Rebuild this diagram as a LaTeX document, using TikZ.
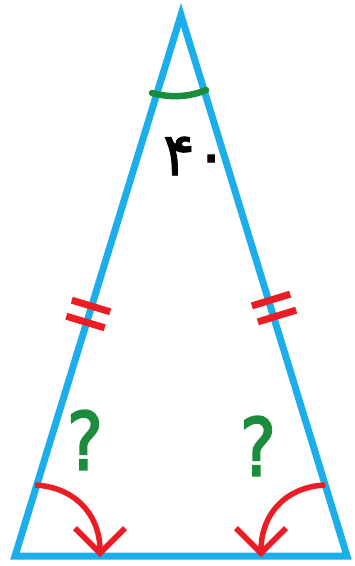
\documentclass[tikz,border=0pt]{standalone}
\usepackage{fontspec}
\usepackage{tikz}
\usetikzlibrary{arrows.meta}
\newfontfamily\persianfont[Script=Arabic,FakeBold=1.5]{DejaVu Sans}
\newfontfamily\qfont[FakeBold=2.5]{DejaVu Sans}
\definecolor{sideblue}{HTML}{1BAEEA}
\definecolor{markred}{HTML}{EC1C24}
\definecolor{markgreen}{HTML}{1A8C3C}

\begin{document}
\begin{tikzpicture}[
  x=1pt,y=-1pt,
  edgeline/.style={draw=sideblue,line width=7pt,line join=miter},
  eqtick/.style={draw=markred,line width=7pt},
  angarrow/.style={draw=markred,line width=5.5pt,-{Straight Barb[length=25pt,width=50pt]}},
  apexarc/.style={draw=markgreen,line width=6.5pt,line cap=round},
  qmark/.style={text=markgreen,font=\qfont\fontsize{80}{80}\selectfont,inner sep=0pt,xscale=0.85}
]
\useasboundingbox (0,0) rectangle (355,566);
% corners
\coordinate (apex) at (181,15);
\coordinate (bl) at (15,556);
\coordinate (br) at (347,556);
\draw[edgeline] (apex) -- (bl) -- (br) -- cycle;

% angle at the top
\coordinate (ga) at (152,93);
\coordinate (gb) at (206,90);
\draw[apexarc] (ga) .. controls (170,98) and (190,97) .. (gb);
\node[font=\persianfont\fontsize{60}{60}\selectfont,inner sep=0pt] (deg) at (195,156) {۴۰};

% equal sides
\draw[eqtick] (71.8,300.2) -- (110.2,311.8);
\draw[eqtick] (66.3,316.2) -- (104.7,327.8);
\draw[eqtick] (251.8,305.9) -- (290.2,294.1);
\draw[eqtick] (257.8,321.9) -- (296.2,310.1);

% base angles
\node[qmark] (ql) at (85,440) {?};
\node[qmark] (qr) at (258,446) {?};
\coordinate (la) at (35,485);
\coordinate (lb) at (100,557);
\draw[angarrow] (la) .. controls (75,487) and (100,515) .. (lb);
\coordinate (ra) at (325,485);
\coordinate (rb) at (261,557);
\draw[angarrow] (ra) .. controls (285,487) and (261,515) .. (rb);
\end{tikzpicture}
\end{document}
